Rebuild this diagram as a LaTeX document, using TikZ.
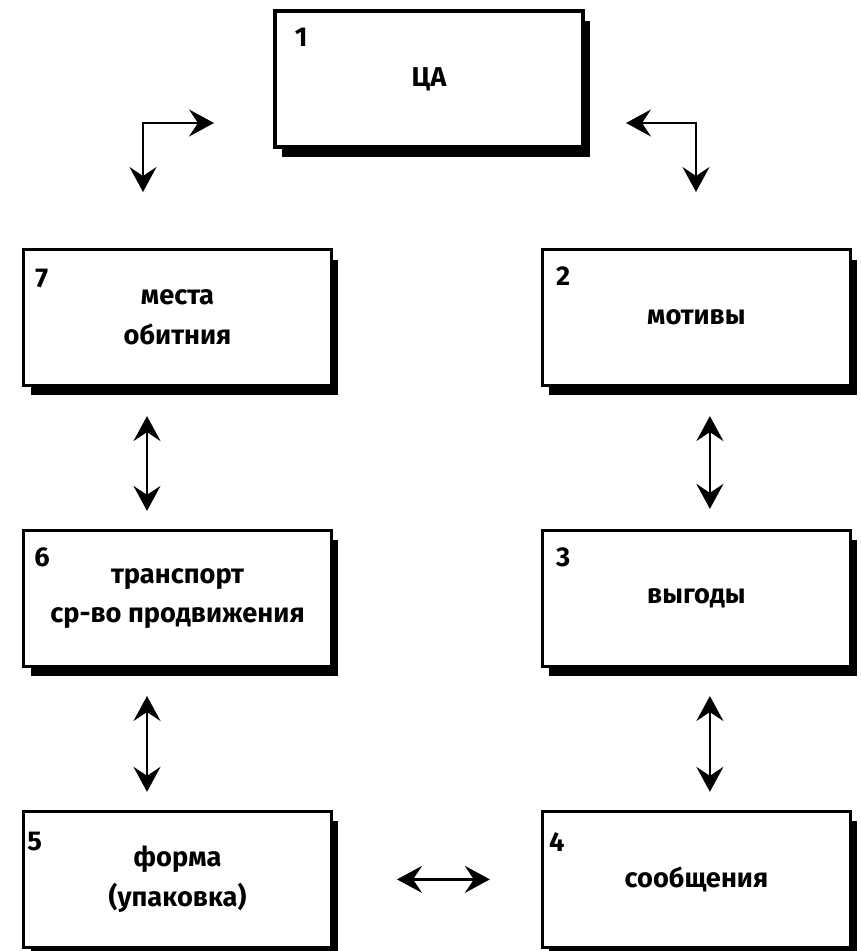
\documentclass[tikz,border=0pt]{standalone}
\usepackage{fontspec}
\setmainfont{Fira Sans}
\usetikzlibrary{arrows.meta,shadows}
\tikzset{%
  >={Stealth[length=5mm,width=5.4mm,inset=1.8mm]},
  % Specifications for style of nodes:
       stepbox/.style = {rectangle, draw=black, line width=1.8pt, fill=white,
                         minimum width=6.16cm, minimum height=2.72cm,
                         text centered, align=center,
                         drop shadow={shadow xshift=1.4mm, shadow yshift=-2mm,
                                      fill=black, opacity=1}},
        boxnum/.style = {anchor=north west, inner sep=0pt, xshift=3mm, yshift=-3.6mm},
          link/.style = {<->, line width=1.4pt}
}

\begin{document}
\begin{tikzpicture}[x=0.02cm, y=-0.02cm, node distance=5.62cm,
    every node/.style={font=\bfseries\fontsize{15.5pt}{22.5pt}\selectfont}]
  \useasboundingbox (0,0) rectangle (861,951);

  \node (b1)[stepbox, label={[boxnum, xshift=1.2mm]north west:1}] at (429,79) {ЦА};
  \node (b7)[stepbox, label={[boxnum, xshift=-0.4mm, yshift=-0.6mm]north west:7}] at (177.5,317.5) {места\\обитния};
  \node (b2)[stepbox, label={[boxnum]north west:2}, right of=b7, xshift=4.76cm] {мотивы};
  \node (b6)[stepbox, label={[boxnum, xshift=-0.6mm]north west:6}, below of=b7] {транспорт\\ср-во продвижения};
  \node (b3)[stepbox, label={[boxnum]north west:3}, below of=b2] {выгоды};
  \node (b5)[stepbox, label={[boxnum, xshift=-2mm, yshift=-0.8mm]north west:5}, below of=b6] {форма\\(упаковка)};
  \node (b4)[stepbox, label={[boxnum, xshift=-1.4mm, yshift=-0.8mm]north west:4}, below of=b3] {сообщения};

  % corner arrows beside box 1
  \coordinate (lh) at (214,123);
  \coordinate (lv) at (143,192);
  \coordinate (rh) at (626,123);
  \coordinate (rv) at (696,192);

    \draw[link]   (lh) -| (lv);
    \draw[link]   (rh) -| (rv);
    \draw[link, shorten <=5.8mm, shorten >=3.6mm] ([xshift=-6.1mm]b7.south) -- ([xshift=-6.1mm]b6.north);
    \draw[link, shorten <=5.6mm, shorten >=3.6mm] ([xshift=-6.1mm]b6.south) -- ([xshift=-6.1mm]b5.north);
    \draw[link, shorten <=5.8mm, shorten >=4mm]   ([xshift=2.7mm]b2.south) -- ([xshift=2.7mm]b3.north);
    \draw[link, shorten <=5.6mm, shorten >=3.6mm] ([xshift=2.7mm]b3.south) -- ([xshift=2.7mm]b4.north);
    \draw[link, shorten <=12.8mm, shorten >=10.2mm] (b5.east) -- (b4.west);
\end{tikzpicture}
\end{document}
